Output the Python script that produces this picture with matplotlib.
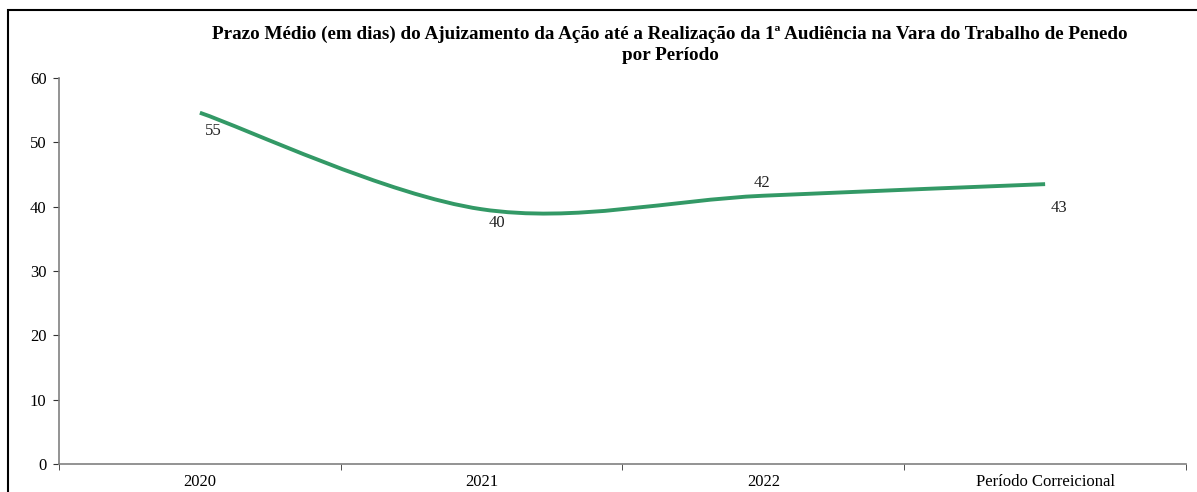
import matplotlib
matplotlib.use("Agg")
import matplotlib.pyplot as plt
import numpy as np
from matplotlib.path import Path
from matplotlib.patches import PathPatch, Rectangle

# data
categorias = ["2020", "2021", "2022", "Período Correicional"]
prazo_medio = [54.6, 39.6, 41.7, 43.5]
rotulos = ["55", "40", "42", "43"]
rotulo_offsets = [(10, -13), (11, -10), (-1, 9), (10, -17)]

titulo = ("Prazo Médio (em dias) do Ajuizamento da Ação até a Realização da 1ª Audiência "
          "na Vara do Trabalho de Penedo\npor Período")

plt.rcParams['font.family'] = ['Liberation Serif', 'DejaVu Serif']
verde = '#339966'


def bezier_path(xs, ys):
    # smooth line like excel: bezier segments with control points from neighbours
    pts = np.column_stack([xs, ys]).astype(float)
    n = len(pts)
    verts = [pts[0]]
    codes = [Path.MOVETO]
    for i in range(n - 1):
        p0 = pts[i - 1] if i > 0 else pts[i]
        p1 = pts[i]
        p2 = pts[i + 1]
        p3 = pts[i + 2] if i + 2 < n else pts[i + 1]
        c1 = p1 + (p2 - p0) / 6.0
        c2 = p2 - (p3 - p1) / 6.0
        verts += [c1, c2, p2]
        codes += [Path.CURVE4] * 3
    return Path(verts, codes)


fig = plt.figure(figsize=(11.97, 4.92), dpi=100)
ax = fig.add_axes([0.0493, 0.0569, 0.9415, 0.7846])

x = np.arange(len(categorias))
ax.add_patch(PathPatch(bezier_path(x, prazo_medio), facecolor='none',
                       edgecolor=verde, lw=2.8, capstyle='butt'))

for xi, yi, txt, off in zip(x, prazo_medio, rotulos, rotulo_offsets):
    ax.annotate(txt, (xi, yi), xytext=off, textcoords='offset points',
                ha='center', va='center', fontsize=12, color='#222222')

ax.set_xlim(-0.5, len(categorias) - 0.5)
ax.set_ylim(0, 60)
ax.set_yticks(range(0, 61, 10))
ax.set_xticks(x)
ax.set_xticklabels(categorias, fontsize=12)
ax.set_xticks(np.arange(-0.5, len(categorias), 1), minor=True)
ax.tick_params(axis='x', which='major', length=0, pad=7)
ax.tick_params(axis='x', which='minor', length=4, color='#333333', direction='out')
ax.tick_params(axis='y', labelsize=12, length=4, color='#333333', pad=5)

for s in ['top', 'right']:
    ax.spines[s].set_visible(False)
for s in ['left', 'bottom']:
    ax.spines[s].set_color('#808080')
    ax.spines[s].set_linewidth(1.2)

fig.text(670 / 1197, 1 - 45 / 492, titulo, ha='center', va='center',
         fontsize=13.8, fontweight='bold', linespacing=1.3)

# outer frame (cropped chart area)
fig.patches.append(Rectangle((7.5 / 1197, -0.1), 1.2, 1.1 - 10 / 492,
                             transform=fig.transFigure, fill=False,
                             edgecolor='black', lw=1.5))

fig.savefig("out.png", dpi=100)
